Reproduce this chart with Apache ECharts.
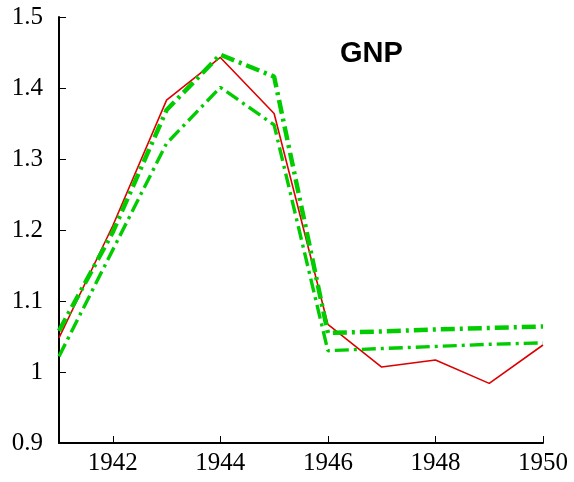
<!DOCTYPE html>
<html>
<head>
<meta charset="utf-8">
<script src="https://cdn.jsdelivr.net/npm/echarts@6/dist/echarts.min.js"></script>
<style>
  html, body { margin: 0; padding: 0; background: #fff; }
  #chart { width: 574px; height: 482px; }
</style>
</head>
<body>
<div id="chart"></div>
<script>
// 年份
var years = ['1941', '1942', '1943', '1944', '1945', '1946', '1947', '1948', '1949', '1950'];
// 实际 GNP
var gnpActual = [1.048, 1.206, 1.383, 1.443, 1.364, 1.067, 1.007, 1.017, 0.984, 1.038];
// 模型上界 / 下界
var gnpUpper = [1.058, 1.197, 1.369, 1.447, 1.416, 1.055, 1.057, 1.060, 1.062, 1.064];
var gnpLower = [1.022, 1.172, 1.322, 1.401, 1.348, 1.030, 1.033, 1.036, 1.039, 1.041];

var chart = echarts.init(document.getElementById('chart'));
var option = {
    animation: false,
    title: {
        text: 'GNP',
        left: 335,
        top: 34,
        textStyle: { fontFamily: 'Liberation Sans', fontWeight: 'bold', fontSize: 29, color: '#000' }
    },
    grid: { left: 59, right: 31, top: 17, bottom: 39 },
    xAxis: {
        type: 'category',
        data: years,
        boundaryGap: false,
        axisLine: { lineStyle: { color: '#000', width: 2 } },
        axisTick: {
            inside: true, length: 7, lineStyle: { color: '#000', width: 1 },
            interval: function (i, v) { return i > 0 && Number(v) % 2 === 0; }
        },
        axisLabel: {
            interval: function (i, v) { return Number(v) % 2 === 0; },
            fontFamily: 'Liberation Serif', fontSize: 25, color: '#000', margin: 8
        },
        splitLine: { show: false }
    },
    yAxis: {
        type: 'value',
        min: 0.9,
        max: 1.5,
        interval: 0.1,
        axisLine: { show: true, lineStyle: { color: '#000', width: 2 } },
        axisTick: { show: true, inside: true, length: 7, lineStyle: { color: '#000', width: 1 } },
        axisLabel: { fontFamily: 'Liberation Serif', fontSize: 25, color: '#000', margin: 16 },
        splitLine: { show: false }
    },
    series: [
        {
            name: 'actual',
            type: 'line',
            data: gnpActual,
            symbol: 'none',
            lineStyle: { color: '#dd0000', width: 1.6 }
        },
        {
            name: 'upper',
            type: 'line',
            data: gnpUpper,
            symbol: 'none',
            lineStyle: { color: '#00cc00', width: 4.5, type: [14, 5, 3, 5] }
        },
        {
            name: 'lower',
            type: 'line',
            data: gnpLower,
            symbol: 'none',
            lineStyle: { color: '#00cc00', width: 3.4, type: [14, 5, 3, 5] }
        }
    ]
};
chart.setOption(option);
</script>
</body>
</html>
